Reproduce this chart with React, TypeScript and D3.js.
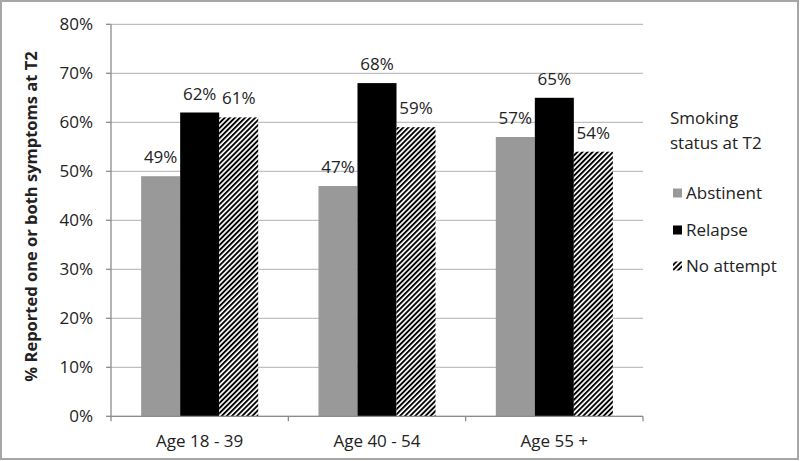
import React from "react";
import * as d3 from "d3";

const categories = ["Age 18 - 39", "Age 40 - 54", "Age 55 +"];
const seriesNames = ["Abstinent", "Relapse", "No attempt"];
const abstinent = [49, 47, 57];
const relapse = [62, 68, 65];
const noAttempt = [61, 59, 54];
const yTicks = [0, 10, 20, 30, 40, 50, 60, 70, 80];

const W = 800;
const H = 461;
const FONT = "'Open Sans', sans-serif";
const FS = 17;

export default function App() {
  const left = 111;
  const right = 643;
  const top = 24.3;
  const bottom = 416.3;
  const x0 = d3.scaleBand().domain(categories).range([left, right]).paddingInner(0.34).paddingOuter(0.17);
  const x1 = d3.scaleBand().domain(seriesNames).range([0, x0.bandwidth()]);
  const y = d3.scaleLinear().domain([0, 80]).range([bottom, top]);
  const series = [abstinent, relapse, noAttempt];
  const fills = ["#999999", "#000000", "url(#hatch)"];
  const step = (right - left) / categories.length;
  const catBoundaries = d3.range(categories.length + 1).map((i) => left + i * step);
  const legendY = [193, 230, 266];

  return (
    <svg width={W} height={H} style={{ position: "absolute", left: 0, top: 0, background: "#fff" }} fontFamily={FONT}>
      <defs>
        <pattern id="hatch" patternUnits="userSpaceOnUse" width={3.6} height={3.6} patternTransform="rotate(45)">
          <rect x={0} y={0} width={3.6} height={3.6} fill="#fff" />
          <rect x={0} y={0} width={1.9} height={3.6} fill="#000" />
        </pattern>
      </defs>
      <rect x={1} y={1} width={W - 3} height={H - 3} fill="#fff" stroke="#a6a6a6" strokeWidth={2} />
      {/* gridlines */}
      {yTicks.map((t) => (
        <line key={t} x1={left} x2={right} y1={y(t)} y2={y(t)} stroke="#bfbfbf" strokeWidth={1.3} />
      ))}
      {/* bars */}
      {categories.map((c, ci) => (
        <g key={c}>
          {series.map((s, si) => (
            <rect
              key={si}
              x={(x0(c) as number) + (x1(seriesNames[si]) as number)}
              y={y(s[ci])}
              width={x1.bandwidth()}
              height={bottom - y(s[ci])}
              fill={fills[si]}
            />
          ))}
          {series.map((s, si) => (
            <text
              key={"l" + si}
              x={(x0(c) as number) + (x1(seriesNames[si]) as number) + x1.bandwidth() / 2}
              y={y(s[ci]) - 13}
              textAnchor="middle"
              fontSize={FS}
              fill="#222"
            >
              {s[ci]}%
            </text>
          ))}
        </g>
      ))}
      {/* y axis */}
      <line x1={left} x2={left} y1={top} y2={bottom} stroke="#8c8c8c" strokeWidth={1.3} />
      {yTicks.map((t) => (
        <g key={"t" + t}>
          <line x1={left - 5} x2={left} y1={y(t)} y2={y(t)} stroke="#8c8c8c" strokeWidth={1.3} />
          <text x={93} y={y(t)} dy="0.35em" textAnchor="end" fontSize={FS} fill="#222">
            {t}%
          </text>
        </g>
      ))}
      {/* x axis */}
      <line x1={left} x2={right} y1={bottom} y2={bottom} stroke="#8c8c8c" strokeWidth={1.3} />
      {catBoundaries.map((bx, i) => (
        <line key={"c" + i} x1={bx} x2={bx} y1={bottom} y2={bottom + 5} stroke="#8c8c8c" strokeWidth={1.3} />
      ))}
      {categories.map((c) => (
        <text key={"x" + c} x={(x0(c) as number) + x0.bandwidth() / 2} y={447} textAnchor="middle" fontSize={FS} fill="#222">
          {c}
        </text>
      ))}
      {/* y label */}
      <text
        transform={`translate(37, 216.5) rotate(-90)`}
        textAnchor="middle"
        fontSize={16.5}
        fontWeight="bold"
        fill="#222"
      >
        % Reported one or both symptoms at T2
      </text>
      {/* legend */}
      <text x={670} y={124} fontSize={FS} fill="#222">Smoking</text>
      <text x={670} y={149} fontSize={FS} fill="#222">status at T2</text>
      {seriesNames.map((n, i) => (
        <g key={"lg" + n}>
          <rect x={673} y={legendY[i] - 4.5} width={9} height={9} fill={fills[i]} />
          <text x={686} y={legendY[i]} dy="0.35em" fontSize={FS} fill="#222">
            {n}
          </text>
        </g>
      ))}
    </svg>
  );
}
